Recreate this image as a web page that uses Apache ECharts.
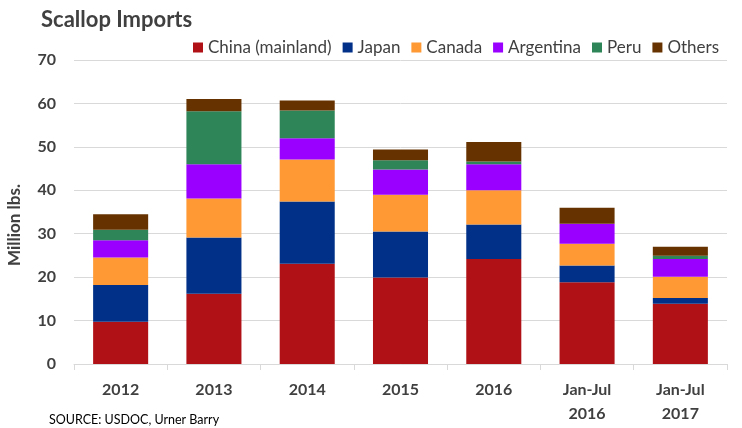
<!DOCTYPE html>
<html><head><meta charset="utf-8">
<script src="https://cdn.jsdelivr.net/npm/echarts@6/dist/echarts.min.js"></script>
<style>html,body{margin:0;padding:0;background:#fff}#c{width:742px;height:428px}</style>
</head><body><div id="c"></div>
<script>
var categories = ['2012','2013','2014','2015','2016','Jan-Jul\n2016','Jan-Jul\n2017'];
var seriesNames = ['China (mainland)','Japan','Canada','Argentina','Peru','Others'];
var china = [9.7, 16.2, 23.1, 19.9, 24.2, 18.8, 13.9];
var japan = [8.5, 12.9, 14.3, 10.6, 7.9, 3.9, 1.3];
var canada = [6.3, 9.0, 9.7, 8.5, 7.9, 5.0, 4.9];
var argentina = [4.0, 7.9, 4.9, 5.8, 6.0, 4.6, 4.1];
var peru = [2.4, 12.2, 6.4, 2.1, 0.6, 0, 0.7];
var others = [3.6, 2.8, 2.3, 2.5, 4.5, 3.7, 2.1];
var yTicks = [0,10,20,30,40,50,60,70];

var colors = ['#B01117','#003087','#FF9933','#9900FF','#2E8558','#663300'];
var dataSets = [china, japan, canada, argentina, peru, others];
var FONT = 'Lato';
var chart = echarts.init(document.getElementById('c'));
chart.setOption({
  animation: false,
  textStyle: {fontFamily: FONT},
  title: [
    {text: 'Scallop Imports', left: 36, top: 4, textStyle: {fontFamily: FONT, fontSize: 22, fontWeight: 'bold', color: '#404040'}},
    {text: 'SOURCE: USDOC, Urner Barry', left: 44, top: 408, textStyle: {fontFamily: FONT, fontSize: 12.5, fontWeight: 'normal', color: '#000'}}
  ],
  graphic: [{
    type: 'text', x: 15, y: 225, rotation: Math.PI / 2,
    style: {text: 'Million lbs.', fontFamily: FONT, fontSize: 17, fontWeight: 'bold', fill: '#404040',
      textAlign: 'center', textVerticalAlign: 'middle'}
  }],
  legend: {
    data: seriesNames, left: 188, top: 34, itemWidth: 10, itemHeight: 10, itemGap: 11,
    icon: 'rect',
    textStyle: {fontFamily: FONT, fontSize: 17, color: '#404040', padding: [0,0,0,0]}
  },
  grid: {left: 74, right: 15, top: 60, bottom: 64},
  xAxis: {
    type: 'category', data: categories,
    axisLine: {lineStyle: {color: '#d9d9d9'}},
    axisTick: {show: true, length: 6, lineStyle: {color: '#d9d9d9'}},
    axisLabel: {fontFamily: FONT, fontSize: 16, fontWeight: 'bold', color: '#404040', margin: 14, lineHeight: 24}
  },
  yAxis: {
    type: 'value', min: yTicks[0], max: yTicks[yTicks.length-1], interval: 10,
    axisLine: {show: false}, axisTick: {show: false},
    splitLine: {lineStyle: {color: '#d9d9d9'}},
    axisLabel: {fontFamily: FONT, fontSize: 16, fontWeight: 'bold', color: '#404040', margin: 18}
  },
  series: seriesNames.map(function(n, i){
    return {name: n, type: 'bar', stack: 'total', data: dataSets[i], barWidth: '59%',
      itemStyle: {color: colors[i]}};
  })
});
</script></body></html>
